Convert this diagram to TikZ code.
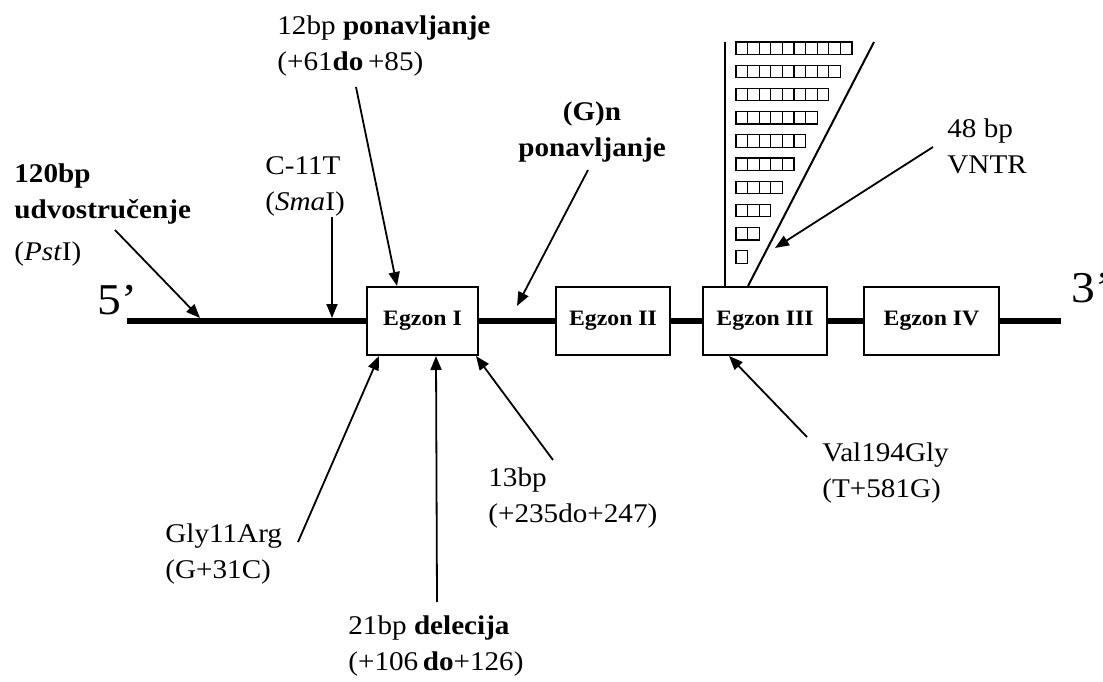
\documentclass[tikz,border=0pt]{standalone}
\usepackage{fontspec}
\setmainfont{Liberation Serif}[FakeStretch=1.08]
\usetikzlibrary{arrows.meta,positioning,calc}

\begin{document}
\begin{tikzpicture}[x=0.5pt,y=-0.5pt,font=\fontsize{13.5}{18}\selectfont]
  \tikzstyle{exon}=[draw,line width=1pt,minimum height=34pt,inner sep=0pt,fill=white,font=\bfseries\fontsize{11}{12}\selectfont]
  \tikzstyle{lbl}=[anchor=base west,align=left,inner sep=0pt]
  \tikzstyle{ptr}=[-{Triangle[length=7pt,width=5.5pt]},line width=0.9pt]
  \tikzstyle{cell}=[line width=0.6pt]
  \useasboundingbox (0,0) rectangle (1103,681);
  % exons on the gene line
  \node[exon,minimum width=55.5pt] (ex1) at (422.5,321) {Egzon I};
  \node[exon,minimum width=57pt] (ex2) at (613,321) {Egzon II};
  \node[exon,minimum width=62pt] (ex3) at (765,321) {Egzon III};
  \node[exon,minimum width=67.5pt] (ex4) at (931.5,321) {Egzon IV};
  \coordinate (g5) at (127,321);
  \coordinate (g3) at (1061,321);
  \draw[line width=3pt] (g5) -- (ex1.west);
  \draw[line width=3pt] (ex1.east) -- (ex2.west);
  \draw[line width=3pt] (ex2.east) -- (ex3.west);
  \draw[line width=3pt] (ex3.east) -- (ex4.west);
  \draw[line width=3pt] (ex4.east) -- (g3);
  \node[lbl,font=\fontsize{22}{24}\selectfont] (end5) at (97,314) {5’};
  \node[lbl,font=\fontsize{22}{24}\selectfont] (end3) at (1071,302) {3’};
  % VNTR ladder above exon III
  \coordinate (vtop) at (725,42);
  \coordinate (dtop) at (874,42);
  \coordinate (dbot) at ($(ex3.north west)+(46,0)$);
  \draw[line width=1pt] (vtop) -- (vtop |- ex3.north);
  \draw[line width=1pt] (dtop) -- (dbot);
  \foreach \r in {0,...,9}{
    \pgfmathtruncatemacro{\n}{9-\r}
    \foreach \c in {0,...,\n}
      \draw[cell] (736+\c*11.6,42+\r*23.2) rectangle ++(11.6,12.3);
  }
  % labels (placed by the baseline of their last line)
  \node[lbl] (dup) at (14,260) {\textbf{120bp}\\\textbf{udvostručenje}\\[3pt](\textit{Pst}I)};
  \node[lbl] (sma) at (265,210) {C-11T\\(\textit{Sma}I)};
  \node[lbl] (rep) at (277,70) {12bp \textbf{ponavljanje}\\(+61\textbf{do}\,+85)};
  \node[lbl,anchor=base,align=center] (gn) at (592,156) {\textbf{(G)n}\\\textbf{ponavljanje}};
  \node[lbl] (vntr) at (947,173) {48 bp\\VNTR};
  \node[lbl] (gly) at (165,578) {Gly11Arg\\(G+31C)};
  \node[lbl] (del) at (348,670) {21bp \textbf{delecija}\\(+106\,\textbf{do}+126)};
  \node[lbl] (ins) at (488,522) {13bp\\(+235do+247)};
  \node[lbl] (val) at (822,497) {Val194Gly\\(T+581G)};
  % pointers
  \coordinate (dups) at (115,230);
  \coordinate (dupt) at (200,318);
  \coordinate (smas) at (332,217);
  \coordinate (smat) at (332,318);
  \coordinate (reps) at (356,87);
  \coordinate (gns) at (588,170);
  \coordinate (gnt) at (517,306);
  \coordinate (vntrs) at (933,147);
  \coordinate (vntrt) at (775,248);
  \coordinate (glys) at (298,542);
  \coordinate (dels) at (437,602);
  \coordinate (inss) at (553,460);
  \coordinate (vals) at (807,437);
  \draw[ptr] (dups) -- (dupt);
  \draw[ptr] (smas) -- (smat);
  \draw[ptr] (reps) -- ($(ex1.north west)+(31,0)$);
  \draw[ptr] (gns) -- (gnt);
  \draw[ptr] (vntrs) -- (vntrt);
  \draw[ptr] (glys) -- ($(ex1.south west)+(13,0)$);
  \draw[ptr] (dels) -- ($(ex1.south west)+(70,0)$);
  \draw[ptr] (inss) -- ($(ex1.south east)+(-3,0)$);
  \draw[ptr] (vals) -- ($(ex3.south west)+(27,0)$);
\end{tikzpicture}
\end{document}
